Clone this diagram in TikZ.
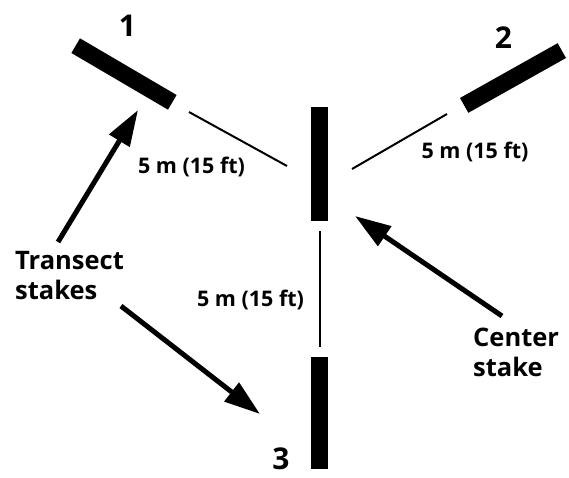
\documentclass[tikz,border=0pt]{standalone}
\usepackage{fontspec}
\setmainfont{Open Sans}
\usetikzlibrary{arrows.meta}
\tikzset{
  stakebar/.style={fill=black, draw=none, inner sep=0pt, minimum width=112pt, minimum height=17pt},
  vstake/.style={fill=black, draw=none, inner sep=0pt, minimum width=17pt, minimum height=114pt},
  tape/.style={line width=2pt},
  pointer/.style={line width=5pt, -{Triangle[length=36pt,width=23pt]}},
  numlab/.style={font=\bfseries\fontsize{30}{30}\selectfont, inner sep=0pt},
  distlab/.style={font=\bfseries\fontsize{21.5}{21.5}\selectfont, inner sep=0pt, anchor=base},
  namelab/.style={font=\bfseries\fontsize{25.5}{30}\selectfont, inner sep=0pt, align=left, anchor=north west}
}
\begin{document}
\begin{tikzpicture}[x=1pt,y=-1pt]
\useasboundingbox (0,0) rectangle (569,477);
% stakes
\node[stakebar, rotate=-30.4] (s1) at (124,74) {};
\node[stakebar, rotate=29.3] (s2) at (513,78) {};
\node[vstake] (c) at (319.5,164) {};
\node[vstake, minimum height=112pt] (s3) at (319.5,413) {};
% tape ends
\coordinate (t1a) at (189,112);
\coordinate (t1b) at (287,166);
\coordinate (t2a) at (447,114);
\coordinate (t2b) at (352,169);
\coordinate (t3a) at (319.5,231);
\coordinate (t3b) at (319.5,347);
\draw[tape] (t1a) -- (t1b);
\draw[tape] (t2a) -- (t2b);
\draw[tape] (t3a) -- (t3b);
% labels
\node[numlab] (n1) at (127.5,26) {1};
\node[numlab] (n2) at (503.5,38) {2};
\node[numlab] (n3) at (281,459) {3};
\node[distlab] (d1) at (191.5,173) {5 m (15 ft)};
\node[distlab] (d2) at (475,158) {5 m (15 ft)};
\node[distlab] (d3) at (250.5,306) {5 m (15 ft)};
\node[namelab] (ts) at (15,251) {Transect\\stakes};
\node[namelab] (cs) at (473,328) {Center\\stake};
% pointers
\coordinate (p1t) at (58,242);
\coordinate (p1h) at (138,110);
\coordinate (p2t) at (121,306);
\coordinate (p2h) at (260,414);
\coordinate (p3t) at (502,316);
\coordinate (p3h) at (355,216);
\draw[pointer] (p1t) -- (p1h);
\draw[pointer] (p2t) -- (p2h);
\draw[pointer] (p3t) -- (p3h);
\end{tikzpicture}
\end{document}
